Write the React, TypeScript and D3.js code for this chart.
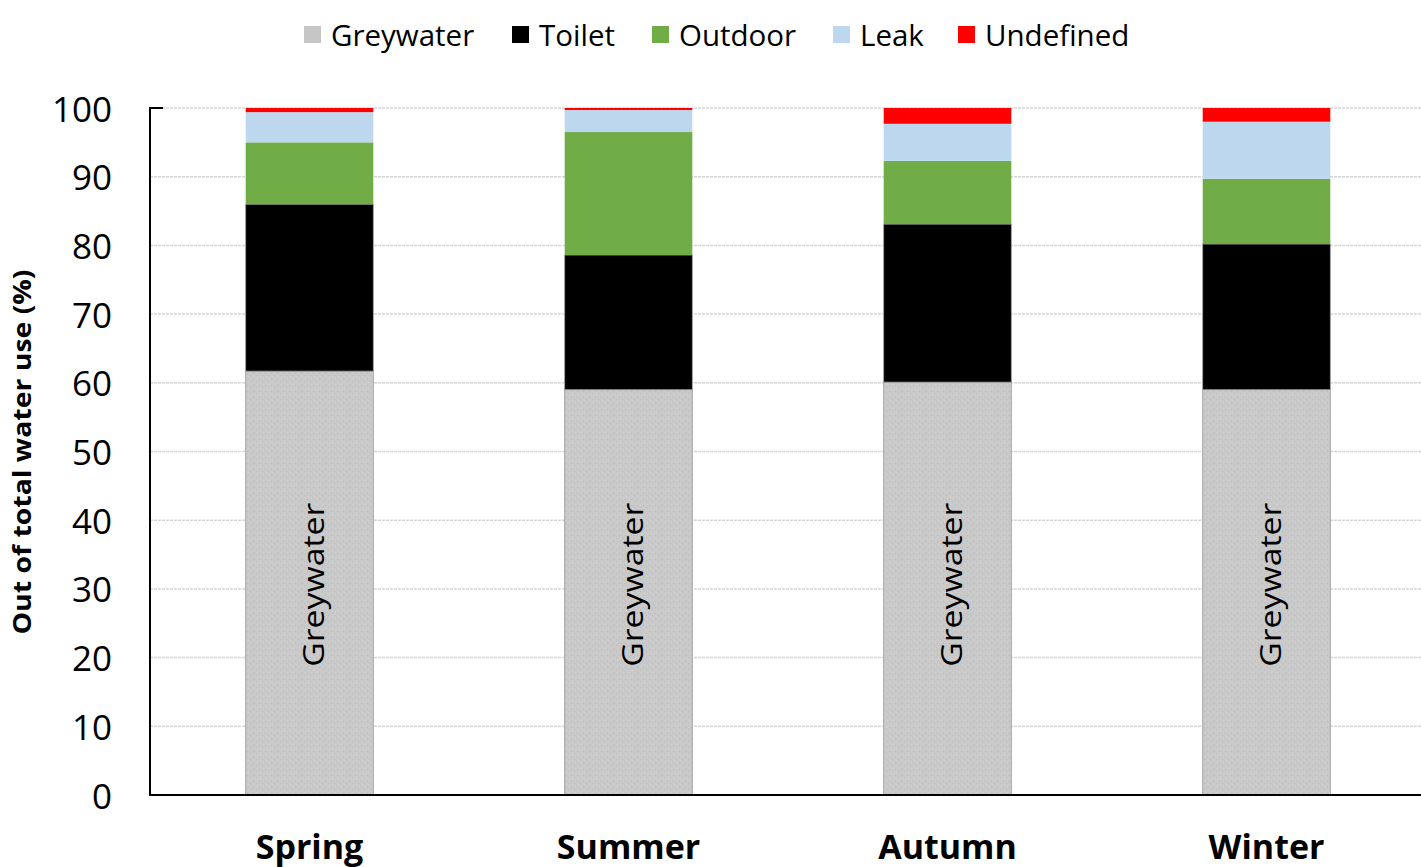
import React from "react";
import * as d3 from "d3";

const seasons = ["Spring", "Summer", "Autumn", "Winter"];
const seriesNames = ["Greywater", "Toilet", "Outdoor", "Leak", "Undefined"];
const greywater = [61.7, 59.0, 60.1, 59.0];
const toilet = [24.3, 19.6, 23.0, 21.2];
const outdoor = [9.0, 17.9, 9.2, 9.5];
const leak = [4.4, 3.2, 5.4, 8.3];
const undefinedUse = [0.6, 0.3, 2.3, 2.0];
const yTicks = [0, 10, 20, 30, 40, 50, 60, 70, 80, 90, 100];

const colors: Record<string, string> = {
  Greywater: "url(#stipple)",
  Toilet: "#000000",
  Outdoor: "#70ad47",
  Leak: "#bdd7ee",
  Undefined: "#ff0000",
};
const legendSwatch: Record<string, string> = { ...colors, Greywater: "#c6c6c6" };

const W = 1421;
const H = 867;
const FONT = "'Open Sans', sans-serif";

export default function App() {
  const rows = seasons.map((s, i) => ({
    season: s,
    Greywater: greywater[i],
    Toilet: toilet[i],
    Outdoor: outdoor[i],
    Leak: leak[i],
    Undefined: undefinedUse[i],
  }));
  const stacked = d3.stack<any>().keys(seriesNames)(rows);

  const x = d3.scaleBand().domain(seasons).range([150, 1426]).paddingInner(0.6).paddingOuter(0.3);
  const y = d3.scaleLinear().domain([0, 100]).range([795, 108]);

  const legendItems = [
    { name: "Greywater", sx: 304 },
    { name: "Toilet", sx: 512 },
    { name: "Outdoor", sx: 652 },
    { name: "Leak", sx: 833 },
    { name: "Undefined", sx: 958 },
  ];

  return (
    <div style={{ position: "absolute", left: 0, top: 0 }}>
      <svg width={W} height={H} style={{ display: "block", background: "#fff" }}>
        <defs>
          <pattern id="stipple" width="6" height="6" patternUnits="userSpaceOnUse">
            <rect width="6" height="6" fill="#c9c9c9" />
            <rect x="1" y="1" width="1" height="1" fill="#b9b9b9" />
            <rect x="4" y="3" width="1" height="1" fill="#bdbdbd" />
            <rect x="2" y="4" width="1" height="1" fill="#d3d3d3" />
            <rect x="5" y="0" width="1" height="1" fill="#d1d1d1" />
          </pattern>
        </defs>

        {/* gridlines */}
        {yTicks.filter((t) => t > 0).map((t) => (
          <line key={t} x1={150} x2={W} y1={y(t)} y2={y(t)} stroke="#d6d6d6" strokeWidth={1.5} strokeDasharray="3,1" />
        ))}

        {/* stacked bars */}
        {stacked.map((layer) => (
          <g key={layer.key}>
            {layer.map((d, i) => (
              <rect
                key={i}
                x={x(seasons[i])!}
                width={x.bandwidth()}
                y={y(d[1])}
                height={y(d[0]) - y(d[1])}
                fill={colors[layer.key]}
                stroke={layer.key === "Toilet" || layer.key === "Greywater" ? "#9a9a9a" : "none"}
                strokeWidth={0.8}
              />
            ))}
          </g>
        ))}

        {/* in-bar labels */}
        {seasons.map((s) => {
          const cx = x(s)! + x.bandwidth() / 2 + 3;
          const cy = y(30.6);
          return (
            <text key={s} transform={`translate(${cx},${cy}) rotate(-90)`} textAnchor="middle" dominantBaseline="central"
              fontFamily={FONT} fontSize={29} textLength={164} lengthAdjust="spacingAndGlyphs" fill="#000">
              Greywater
            </text>
          );
        })}

        {/* axes */}
        <line x1={150} x2={150} y1={107} y2={796} stroke="#000" strokeWidth={2} />
        <line x1={149} x2={163} y1={108} y2={108} stroke="#000" strokeWidth={2} />
        <line x1={149} x2={W} y1={795} y2={795} stroke="#000" strokeWidth={2} />

        {yTicks.map((t) => (
          <text key={t} x={112} y={y(t)} textAnchor="end" dominantBaseline="central" fontFamily={FONT} fontSize={35} fill="#000">
            {t}
          </text>
        ))}

        {seasons.map((s) => (
          <text key={s} x={x(s)! + x.bandwidth() / 2} y={859} textAnchor="middle" fontFamily={FONT} fontWeight="bold" fontSize={34} fill="#000">
            {s}
          </text>
        ))}

        <text transform="translate(21,452) rotate(-90)" textAnchor="middle" dominantBaseline="central" fontFamily={FONT} fontWeight="bold"
          fontSize={25} textLength={365} lengthAdjust="spacingAndGlyphs" fill="#000">
          Out of total water use (%)
        </text>

        {/* legend */}
        {legendItems.map((it) => (
          <g key={it.name}>
            <rect x={it.sx} y={26} width={17} height={17} fill={legendSwatch[it.name]} />
            <text x={it.sx + 27} y={34} dominantBaseline="central" fontFamily={FONT} fontSize={29.5} fill="#000">
              {it.name}
            </text>
          </g>
        ))}
      </svg>
    </div>
  );
}
